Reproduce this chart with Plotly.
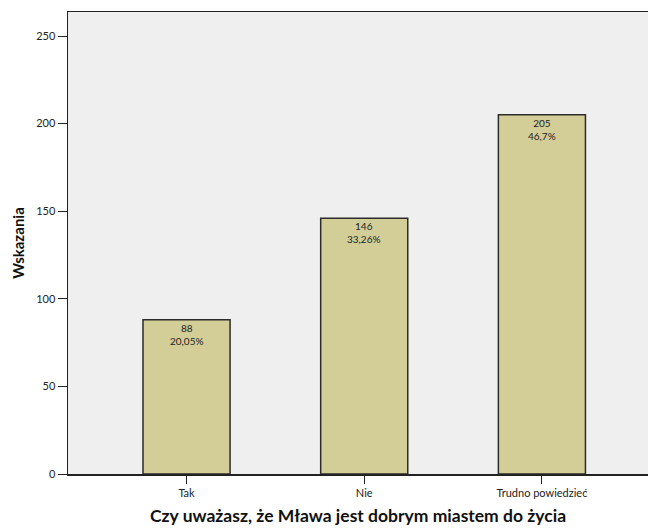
import plotly.graph_objects as go

categories = ["Tak", "Nie", "Trudno powiedzieć"]
counts = [88, 146, 205]
percents = ["20,05%", "33,26%", "46,7%"]
y_ticks = [0, 50, 100, 150, 200, 250]

FONT = "Lato, Open Sans, Arial, sans-serif"

fig = go.Figure()
fig.add_trace(go.Bar(
    x=list(range(len(categories))),
    y=counts,
    width=0.49,
    marker=dict(color="#d3ce98", line=dict(color="#2b2b2b", width=1.5)),
    hoverinfo="skip",
))

for i, (c, p) in enumerate(zip(counts, percents)):
    fig.add_annotation(
        x=i, y=c, text=f"{c}<br>{p}", showarrow=False,
        yanchor="top", yshift=0, xanchor="center",
        font=dict(family=FONT, size=10, color="#222222"),
        align="center",
    )

fig.update_layout(
    width=648, height=528,
    margin=dict(l=68, r=0, t=12, b=54),
    paper_bgcolor="white",
    plot_bgcolor="#efefef",
    showlegend=False,
    font=dict(family=FONT, size=11, color="#222222"),
    xaxis=dict(
        range=[-0.667, 2.597],
        tickmode="array",
        tickvals=list(range(len(categories))),
        ticktext=categories,
        ticks="outside", ticklen=8, tickwidth=1, tickcolor="#222222",
        showline=True, linecolor="#222222", linewidth=1.5, mirror=True,
        showgrid=False, zeroline=False,
        tickfont=dict(family=FONT, size=11, color="#222222"),
        title=dict(
            text="<b>Czy uważasz, że Mława jest dobrym miastem do życia</b>",
            font=dict(family=FONT, size=17.5, color="#111111"),
            standoff=12,
        ),
    ),
    yaxis=dict(
        range=[0, 263.7],
        tickmode="array",
        tickvals=y_ticks,
        ticks="outside", ticklen=9, tickwidth=1, tickcolor="#222222",
        showline=True, linecolor="#222222", linewidth=1.5,
        showgrid=False, zeroline=False,
        tickfont=dict(family=FONT, size=11, color="#222222"),
        title=dict(
            text="<b>Wskazania</b>",
            font=dict(family=FONT, size=15, color="#111111"),
            standoff=8,
        ),
    ),
)

fig.write_html(
    "out.html",
    config={"displayModeBar": False, "staticPlot": True},
    post_script="document.body.style.margin='0';document.body.style.overflow='hidden';",
)
